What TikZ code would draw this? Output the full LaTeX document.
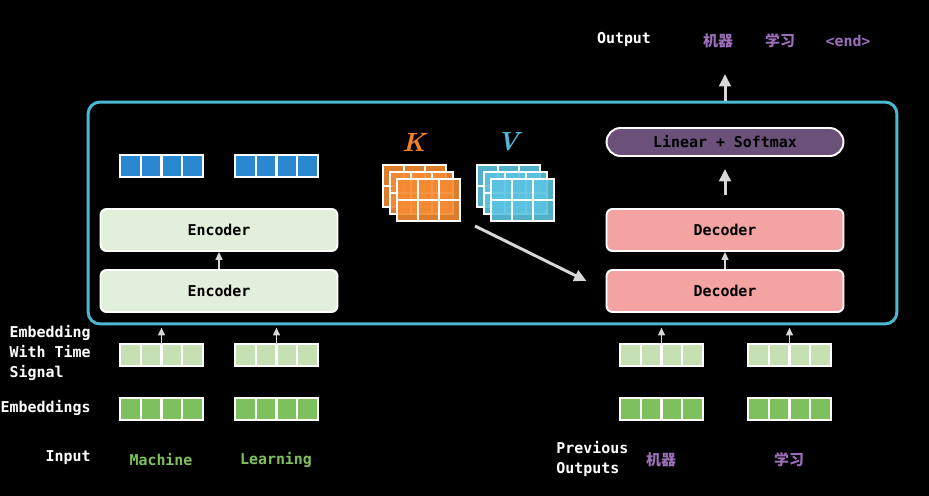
\documentclass[tikz,border=0pt]{standalone}
\usepackage{fontspec}
\setmonofont{DejaVu Sans Mono}
\newfontfamily\cjk{Noto Sans CJK SC}
\usetikzlibrary{arrows.meta,calc}

\definecolor{framecyan}{RGB}{75,184,212}
\definecolor{vecblue}{RGB}{42,136,208}
\definecolor{korange}{RGB}{245,138,50}
\definecolor{vcyan}{RGB}{90,195,225}
\definecolor{klabel}{RGB}{240,130,40}
\definecolor{vlabel}{RGB}{80,180,215}
\definecolor{sigfill}{RGB}{197,224,179}
\definecolor{embfill}{RGB}{126,192,94}
\definecolor{encfill}{RGB}{226,239,218}
\definecolor{decfill}{RGB}{244,163,163}
\definecolor{smfill}{RGB}{107,80,122}
\definecolor{wordpurple}{RGB}{155,110,185}
\definecolor{wordgreen}{RGB}{126,192,94}
\definecolor{arrowgray}{RGB}{215,215,215}

\begin{document}
\begin{tikzpicture}[
    x=0.02cm, y=-0.02cm,
    every node/.style={font=\ttfamily\bfseries\fontsize{8.5}{11.3}\selectfont, inner sep=0pt},
    layer/.style={rectangle, draw=white, line width=1.1pt, rounded corners=0.12cm,
                  minimum width=4.74cm, minimum height=0.84cm, text=black},
    enc/.style={layer, fill=encfill},
    dec/.style={layer, fill=decfill},
    cell/.style={rectangle, draw=white, line width=1.3pt, minimum width=0.415cm, minimum height=0.44cm},
    row/.style={rectangle, minimum width=1.66cm, minimum height=0.44cm},
    label/.style={text=white},
    arrow/.style={-{Triangle[length=4.5pt,width=4pt]}, draw=arrowgray, line width=0.8pt},
    bigarrow/.style={-{Triangle[length=7pt,width=6.5pt]}, draw=arrowgray, line width=1.7pt}
]

% background
\fill[black] (0,0) rectangle (929,496);
\useasboundingbox (0,0) rectangle (929,496);

% model frame
\node[draw=framecyan, line width=1.7pt, rounded corners=0.24cm,
      minimum width=16.18cm, minimum height=4.44cm] (frame) at (492.5,213) {};

% encoder side
\node[enc] (enc2) at (219,230) {Encoder};
\node[enc] (enc1) at (219,291) {Encoder};

% decoder side
\node[dec] (dec2) at (725,230) {Decoder};
\node[dec] (dec1) at (725,291) {Decoder};
\node[layer, fill=smfill, rounded corners=0.28cm, minimum height=0.56cm] (softmax) at (725,142) {Linear + Softmax};

% vectors
\foreach \n/\x/\y/\c in {blue1/161.5/166/vecblue, blue2/276.5/166/vecblue,
                        tsig1/161.5/355/sigfill, tsig2/276.5/355/sigfill,
                        emb1/161.5/409/embfill, emb2/276.5/409/embfill,
                        dsig1/661.5/355/sigfill, dsig2/789.5/355/sigfill,
                        demb1/661.5/409/embfill, demb2/789.5/409/embfill}{
  \node[row] (\n) at (\x,\y) {};
  \foreach \i in {0,...,3}
    \node[cell, fill=\c] (\n-\i) at ($(\n.center)+(\i*20.75-31.125,0)$) {};
}

% K and V stacks
\foreach \s in {0,1,2}
  \foreach \c in {0,1,2}
    \foreach \r in {0,1}{
      \filldraw[fill=korange, fill opacity=0.9, draw=white, line width=1.4pt]
        (383+7*\s+21*\c, 165+7*\s+21*\r) rectangle ++(21,21);
      \filldraw[fill=vcyan, fill opacity=0.9, draw=white, line width=1.4pt]
        (477+7*\s+21*\c, 165+7*\s+21*\r) rectangle ++(21,21);
    }
\node[text=klabel, font=\rmfamily\bfseries\itshape\fontsize{15}{15}\selectfont] (klab) at (414,142) {K};
\node[text=vlabel, font=\rmfamily\bfseries\itshape\fontsize{15}{15}\selectfont] (vlab) at (508,142) {V};
\coordinate (kv) at (475,226);
\coordinate (kvend) at ($(dec1.west)+(-19,-10)$);

% labels
\node[label, anchor=east, align=left] (sigtxt) at (91,353) {Embedding\\With Time\\Signal};
\node[label, anchor=east] (embtxt) at (91,408) {Embeddings};
\node[label, anchor=east] (intxt) at (91,458) {Input};
\node[text=wordgreen] (w1) at (161,460) {Machine};
\node[text=wordgreen] (w2) at (276,460) {Learning};
\node[label, anchor=west, align=left] (prevtxt) at (556,459) {Previous\\Outputs};
\node[text=wordpurple, font=\cjk\bfseries\fontsize{8.5}{10}\selectfont] (p1) at (661,460) {机器};
\node[text=wordpurple, font=\cjk\bfseries\fontsize{8.5}{10}\selectfont] (p2) at (789,460) {学习};
\node[label] (outtxt) at (624,40) {Output};
\node[text=wordpurple, font=\cjk\bfseries\fontsize{8.5}{10}\selectfont] (o1) at (718,41) {机器};
\node[text=wordpurple, font=\cjk\bfseries\fontsize{8.5}{10}\selectfont] (o2) at (780,41) {学习};
\node[text=wordpurple] (o3) at (848,41) {<end>};
\coordinate (outtip) at (725,74);

% connectors
\draw[arrow] (enc1) -- (enc2);
\draw[arrow] (dec1) -- (dec2);
\draw[bigarrow, shorten <=0.26cm, shorten >=0.24cm] (dec2) -- (softmax);
\draw[bigarrow] (softmax |- frame.north) -- (outtip);
\draw[bigarrow] (kv) -- (kvend);
\foreach \n in {tsig1,tsig2,dsig1,dsig2}
  \draw[arrow, shorten >=1.2pt] (\n.north) -- (\n.north |- frame.south);

\end{tikzpicture}
\end{document}
